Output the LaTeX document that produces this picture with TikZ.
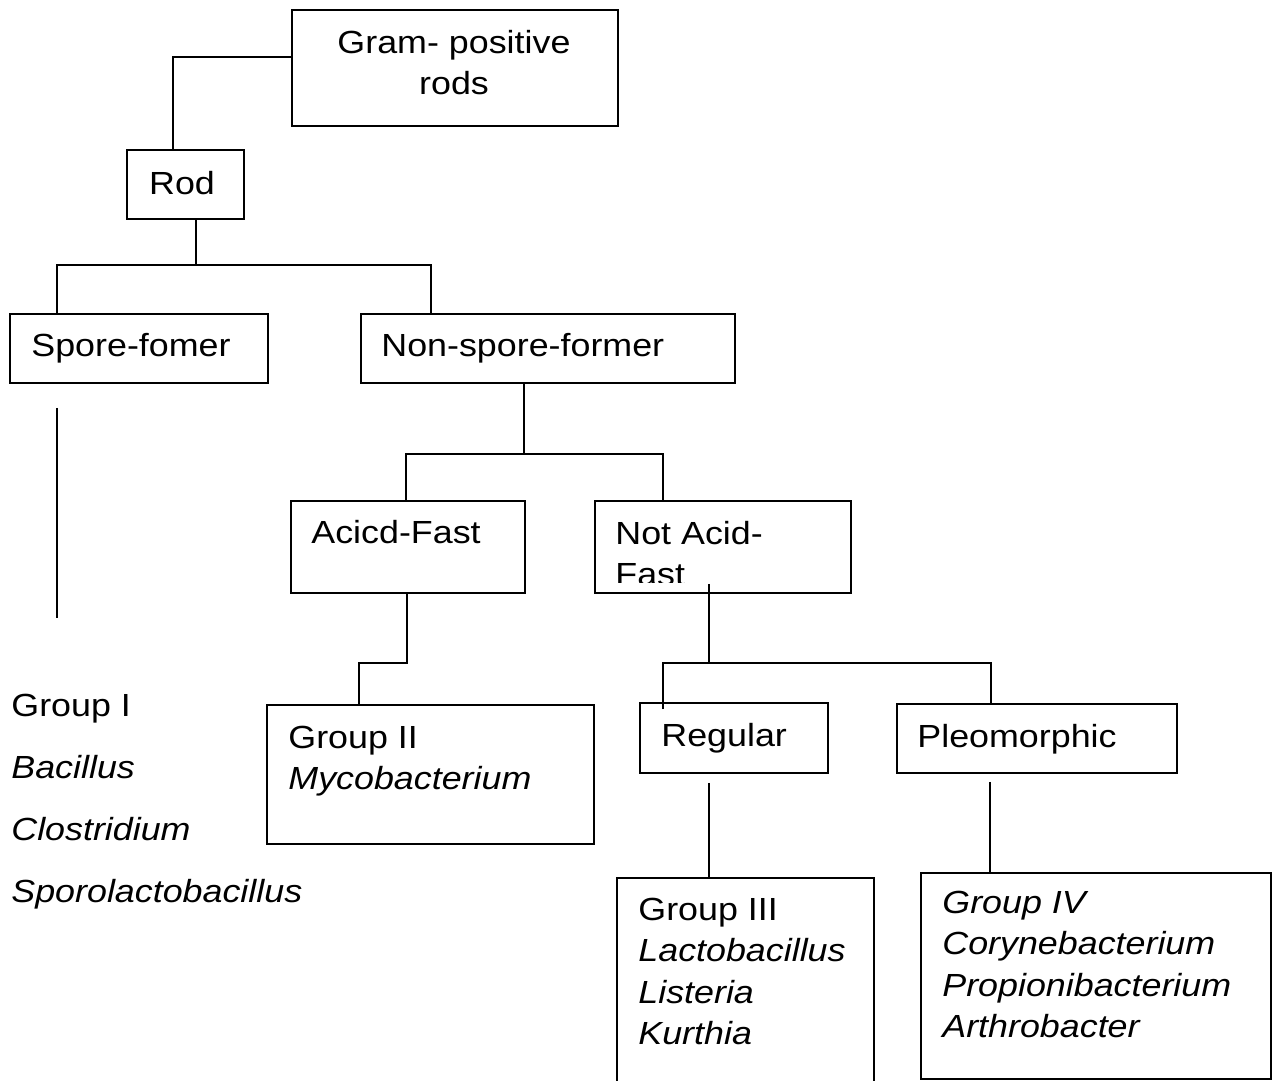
\documentclass[tikz,border=0pt]{standalone}
\usepackage{fontspec}
\setmainfont{Liberation Sans}[FakeStretch=1.12]
\usetikzlibrary{calc}

\tikzset{
    box/.style={draw, line width=0.9pt, anchor=north west, inner sep=0pt},
    txt/.style={inner sep=0pt, anchor=base west, align=left,
        font=\fontsize{16}{20.75}\selectfont},
    link/.style={line width=0.9pt}
}

\begin{document}
\begin{tikzpicture}[x=0.5pt,y=-0.5pt]
            \fill[white] (0,0) rectangle (1276,1081);
            \clip (0,0) rectangle (1276,1081);

            % boxes
            \node[box, minimum width=163pt, minimum height=58pt] (gram) at (291,9) {};
            \node[box, minimum width=58.5pt, minimum height=34.5pt] (rod) at (126,149) {};
            \node[box, minimum width=129pt, minimum height=34.5pt] (spore) at (9,313) {};
            \node[box, minimum width=187pt, minimum height=34.5pt] (nonspore) at (360,313) {};
            \node[box, minimum width=117pt, minimum height=46pt] (acid) at (290,500) {};
            \node[box, minimum width=128pt, minimum height=46pt] (notacid) at (594,500) {};
            \node[box, minimum width=163.5pt, minimum height=69.5pt] (grptwo) at (266,704) {};
            \node[box, minimum width=94pt, minimum height=35pt] (regular) at (639,702) {};
            \node[box, minimum width=140pt, minimum height=34.5pt] (pleo) at (896,703) {};
            \node[box, minimum width=128.5pt, minimum height=130pt] (grpthree) at (616,877) {};
            \node[box, minimum width=175pt, minimum height=103pt] (grpfour) at (920,872) {};

            % texts (base = last line)
            \node[txt, anchor=base, align=center] (gramtxt) at (454,95) {Gram- positive\\rods};
            \node[txt, anchor=base] (rodtxt) at (182,195) {Rod};
            \node[txt] (sporetxt) at (31,356) {Spore-fomer};
            \node[txt] (nonsporetxt) at (381,356) {Non-spore-former};
            \node[txt] (acidtxt) at (311,543) {Acicd-Fast};
            \begin{scope}
                \clip (594,500) rectangle (850,582);
                \node[txt] (notacidtxt) at (615,585.5) {Not Acid-\\Fast};
            \end{scope}
            \node[txt] (grponetxt) at (11,902)
                [font=\fontsize{16}{31}\selectfont]
                {Group I\\\textit{Bacillus}\\\textit{Clostridium}\\\textit{Sporolactobacillus}};
            \node[txt] (grptwotxt) at (288,789.5) {Group II\\\textit{Mycobacterium}};
            \node[txt] (regulartxt) at (661,746) {Regular};
            \node[txt] (pleotxt) at (917,747) {Pleomorphic};
            \node[txt] (grpthreetxt) at (638,1044.5)
                {Group III\\\textit{Lactobacillus}\\\textit{Listeria}\\\textit{Kurthia}};
            \node[txt] (grpfourtxt) at (942,1037.5)
                {\textit{Group IV}\\\textit{Corynebacterium}\\\textit{Propionibacterium}\\\textit{Arthrobacter}};

            % connectors
            \coordinate (forkone) at (196,265);
            \coordinate (forktwo) at (524,454);
            \coordinate (forkthree) at (709,663);
            \draw[link] (gram.west |- 0,57) -| (rod.north -| 173,0);
            \draw[link] (rod.south -| forkone) -- (forkone);
            \draw[link] (spore.north -| 57,0) |- (forkone) -| (nonspore.north -| 431,0);
            \draw[link] ($(spore.south -| 57,0)+(0,24)$) -- ++(0,210);
            \draw[link] (nonspore.south -| forktwo) -- (forktwo);
            \draw[link] (acid.north -| 406,0) |- (forktwo) -| (notacid.north -| 663,0);
            \draw[link] (acid.south -| 407,0) -- (407,663) -| (grptwo.north -| 359,0);
            \draw[link] ($(notacid.south -| forkthree)+(0,-10)$) -- (forkthree);
            \draw[link] ($(regular.north -| 663,0)+(0,7)$) |- (forkthree) -| (pleo.north -| 991,0);
            \draw[link] ($(regular.south -| 709,0)+(0,9)$) -- (grpthree.north -| 709,0);
            \draw[link] ($(pleo.south -| 990,0)+(0,8)$) -- (grpfour.north -| 990,0);
\end{tikzpicture}
\end{document}
